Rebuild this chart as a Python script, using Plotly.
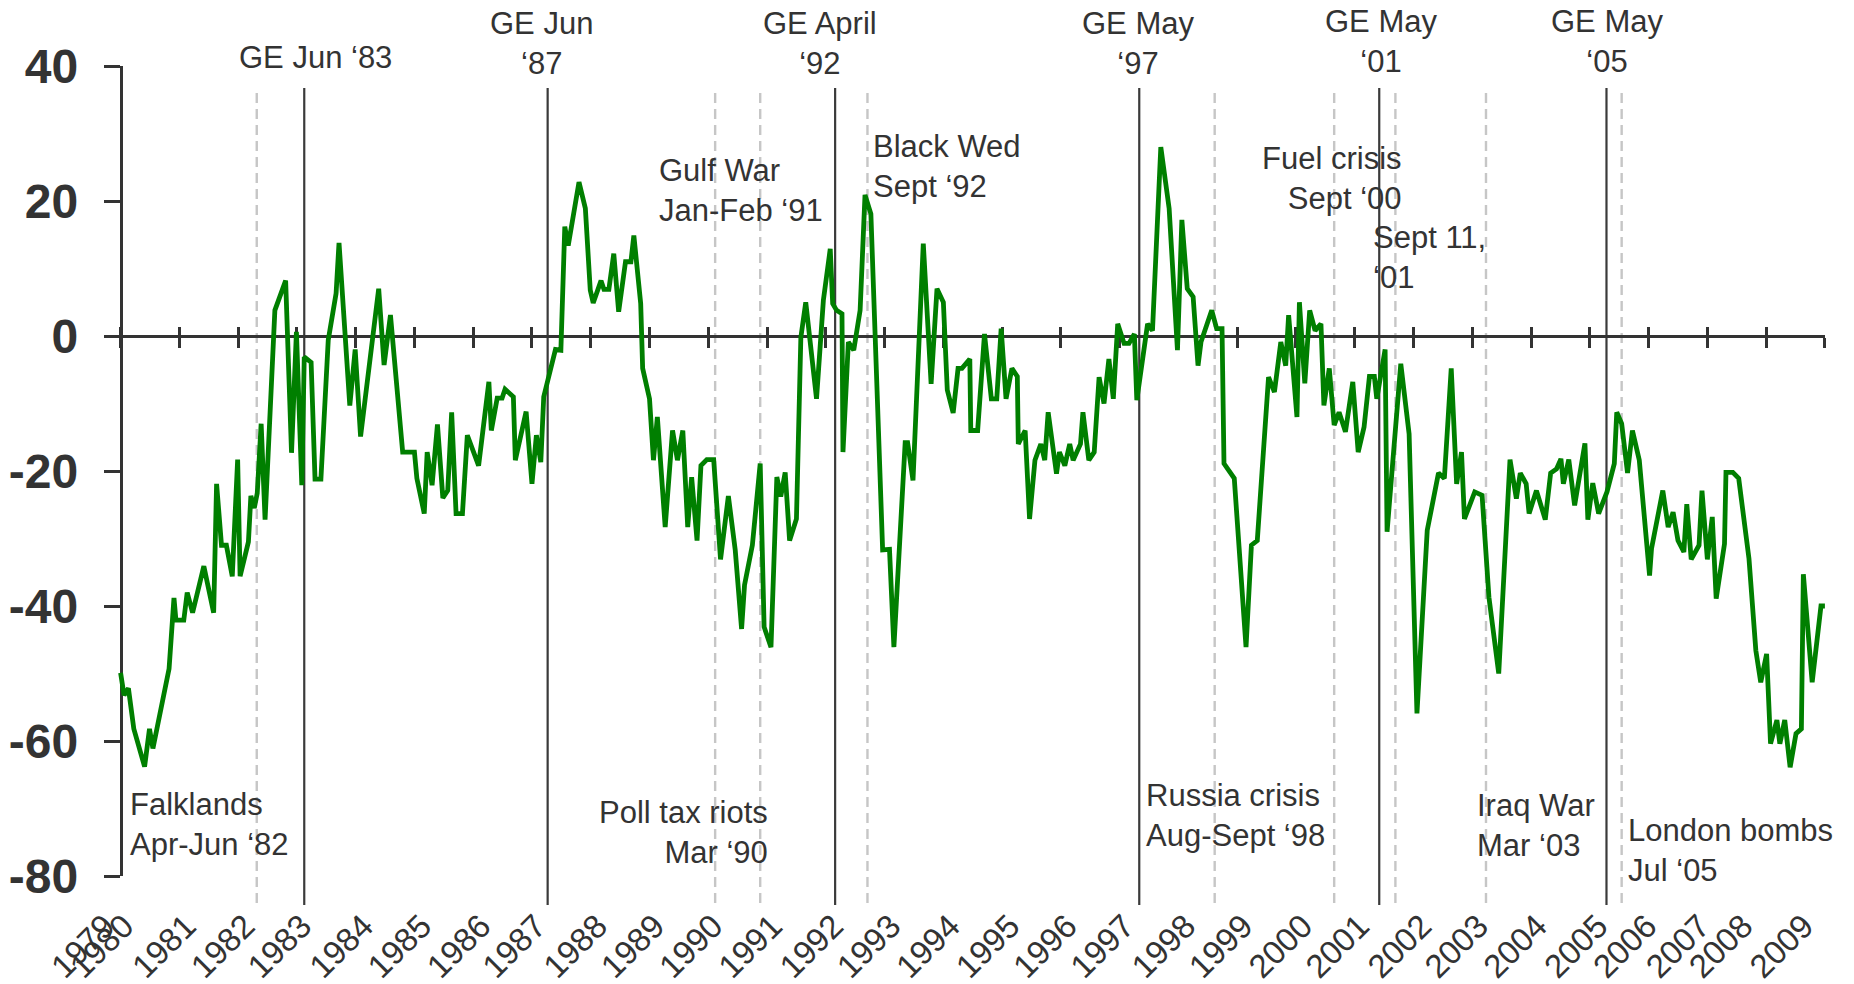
import plotly.graph_objects as go

# ---------------- data ----------------
# position along the category axis (one tick mark every 12 periods)
period = [
    0.0, 0.7, 1.6, 2.7, 4.9, 5.9, 6.6, 9.9, 10.9, 11.3, 12.9, 13.6, 14.7, 17.0, 19.0,
    19.6, 20.6, 21.6, 22.8, 23.9, 24.4, 26.1, 26.6, 27.3, 27.9, 28.7, 29.5, 31.5, 33.7,
    34.9, 35.9, 37.0, 37.5, 38.9, 39.7, 40.9, 42.4, 44.0, 44.6, 46.8, 47.9, 49.0, 52.7,
    53.8, 55.1, 57.6, 60.0, 60.5, 62.0, 62.6, 63.6, 64.7, 65.8, 66.8, 67.6, 68.5, 69.8,
    70.8, 73.1, 75.2, 75.7, 76.9, 77.9, 78.5, 80.2, 80.6, 82.8, 84.0, 84.9, 85.8, 86.4,
    87.8, 88.8, 89.9, 90.7, 91.4, 93.6, 94.9, 95.9, 96.5, 98.1, 98.7, 99.7, 100.7, 101.7,
    103.1, 104.2, 104.8, 106.2, 106.6, 108.0, 108.8, 109.6, 111.2, 112.7, 113.7, 114.8,
    115.8, 116.6, 117.7, 118.5, 119.7, 121.1, 122.5, 124.1, 125.5, 126.8, 127.4, 129.0,
    130.6, 131.4, 132.8, 134.0, 134.8, 135.7, 136.6, 138.0, 138.9, 139.9, 142.1, 143.5,
    144.9, 145.4, 146.2, 147.3, 147.5, 148.6, 149.7, 151.0, 152.0, 153.2, 155.6, 157.0,
    157.9, 160.2, 160.7, 161.8, 163.9, 165.5, 166.7, 168.0, 168.8, 170.0, 171.0, 171.8,
    173.4, 173.6, 175.0, 176.4, 177.8, 178.9, 179.8, 180.8, 182.0, 183.1, 183.3, 184.7,
    185.6, 186.7, 187.9, 188.7, 189.4, 191.1, 191.7, 192.8, 193.8, 194.5, 196.0, 196.5,
    197.7, 198.8, 199.8, 200.8, 201.8, 202.7, 203.6, 204.9, 205.9, 207.0, 207.5, 208.7,
    209.7, 210.7, 212.4, 214.1, 215.8, 216.7, 217.8, 219.0, 220.0, 220.6, 221.8, 222.8,
    223.8, 224.9, 225.3, 227.4, 229.8, 230.9, 232.1, 234.4, 235.6, 236.9, 237.9, 238.5,
    240.2, 240.7, 241.8, 242.8, 243.9, 245.1, 245.7, 246.8, 247.8, 248.8, 250.1, 251.6,
    252.7, 253.9, 255.0, 256.0, 256.5, 258.2, 258.6, 261.4, 263.1, 264.7, 266.8, 269.1,
    270.3, 271.7, 272.8, 273.8, 274.4, 276.5, 278.0, 279.4, 281.4, 283.7, 285.0, 285.8,
    287.0, 287.6, 289.1, 290.9, 292.0, 293.2, 294.1, 294.6, 295.7, 296.9, 299.0, 299.6,
    300.6, 301.8, 303.5, 305.0, 305.5, 306.5, 307.7, 308.7, 310.1, 312.2, 312.6, 314.9,
    316.0, 317.0, 318.0, 319.2, 319.8, 320.7, 322.3, 322.9, 324.0, 325.0, 325.8, 327.5,
    327.8, 329.2, 330.4, 332.5, 333.9, 334.9, 336.1, 336.9, 338.2, 338.8, 339.8, 340.9,
    342.1, 343.2, 343.6, 345.4, 347.2, 348.0,
]
balance = [
    -49.9, -53.2, -52.2, -58.2, -63.8, -58.2, -61.1, -49.3, -38.8, -42.1, -42.1, -38.0, -41.0, -34.1, -41.0,
    -21.9, -31.0, -31.0, -35.6, -18.3, -35.6, -30.5, -23.7, -25.5, -23.3, -13.0, -27.2, 3.8, 8.2,
    -17.3, 0.6, -22.1, -3.1, -3.9, -21.2, -21.2, -0.6, 6.3, 13.8, -10.3, -2.0, -14.9, 7.0,
    -4.3, 3.1, -17.2, -17.2, -21.1, -26.3, -17.2, -22.1, -13.1, -24.0, -22.9, -11.3, -26.3, -26.3,
    -14.7, -19.2, -6.8, -14.0, -9.2, -9.2, -7.9, -9.0, -18.4, -11.2, -21.9, -14.7, -18.7, -9.0,
    -4.5, -2.0, -2.1, 16.2, 13.4, 22.8, 18.9, 6.8, 4.9, 8.2, 6.9, 6.9, 12.2, 3.6,
    11.0, 11.0, 14.9, 4.8, -4.8, -9.3, -18.4, -12.0, -28.3, -14.0, -18.4, -14.0,
    -28.3, -20.9, -30.3, -19.2, -18.3, -18.3, -33.1, -23.7, -31.7, -43.4, -36.9, -31.0,
    -18.9, -43.1, -46.1, -20.9, -23.8, -20.2, -30.3, -27.1, -0.2, 5.0, -9.3, 5.3,
    12.9, 4.8, 3.8, 3.3, -17.2, -0.9, -2.1, 3.8, 20.9, 18.1, -31.7, -31.6,
    -46.1, -15.8, -15.8, -21.4, 13.7, -7.1, 7.0, 5.0, -8.0, -11.4, -4.8, -4.8,
    -3.4, -14.0, -14.0, 0.3, -9.3, -9.3, 1.1, -9.3, -4.8, -6.0, -16.0, -14.0,
    -27.1, -18.4, -16.0, -18.4, -11.3, -20.4, -17.2, -19.2, -16.0, -18.4, -16.0, -11.3,
    -18.4, -17.2, -6.1, -10.0, -3.4, -9.3, 1.8, -1.1, -1.1, 0.3, -9.5, -3.1,
    1.8, 0.8, 28.0, 18.9, -2.1, 17.2, 7.0, 5.8, -4.4, -0.9, 1.6, 3.8,
    1.1, 1.1, -18.9, -21.1, -46.1, -31.0, -30.3, -6.1, -8.3, -0.9, -4.4, 3.1,
    -12.0, 5.0, -7.0, 3.8, 0.8, 1.8, -10.3, -4.8, -13.2, -11.3, -14.2, -6.8,
    -17.2, -13.5, -6.0, -6.0, -9.3, -2.0, -29.0, -4.1, -14.5, -55.9, -28.8, -20.3,
    -21.1, -4.8, -21.9, -17.2, -27.1, -23.1, -23.6, -38.7, -50.0, -18.3, -24.1, -20.3,
    -21.9, -26.3, -22.9, -27.2, -20.3, -19.7, -18.2, -21.9, -18.3, -25.1, -15.9, -27.2,
    -21.8, -26.3, -23.1, -18.9, -11.3, -13.0, -20.3, -14.0, -18.4, -35.5, -31.5, -22.9,
    -28.3, -26.1, -30.3, -32.0, -24.9, -33.1, -31.0, -22.9, -33.1, -26.8, -38.9, -30.8,
    -20.2, -20.2, -21.1, -33.0, -46.6, -51.3, -47.1, -60.4, -56.9, -60.4, -56.9, -63.9,
    -58.9, -58.2, -35.3, -51.3, -40.0, -40.0,
]

year_labels = ["1979", "1980", "1981", "1982", "1983", "1984", "1985", "1986", "1987",
               "1988", "1989", "1990", "1991", "1992", "1993", "1994", "1995", "1996",
               "1997", "1998", "1999", "2000", "2001", "2002", "2003", "2004", "2005",
               "2006", "2007", "2008", "2009"]
year_pos = [-3.15, 0.7, 13.4, 25.4, 37.0, 49.6, 61.5, 73.6, 84.9, 97.4, 109.1, 121.0,
            133.1, 145.6, 157.3, 169.4, 181.6, 193.3, 205.0, 217.5, 229.2, 241.4, 253.0,
            265.7, 277.3, 289.3, 301.7, 311.7, 322.5, 331.3, 343.7]
period_ticks = [0, 12, 24, 36, 48, 60, 72, 84, 96, 108, 120, 132, 144, 156, 168, 180,
                192, 204, 216, 228, 240, 252, 264, 276, 288, 300, 312, 324, 336, 348]
y_ticks = [-80, -60, -40, -20, 0, 20, 40]
y_labels = ["-80", "-60", "-40", "-20", "0", "20", "40"]

# general elections (solid lines) and other events (dashed lines)
election_period = [37.5, 87.2, 145.9, 208.0, 257.0, 303.4]
event_period = [27.8, 121.4, 130.6, 152.5, 223.4, 247.8, 260.3, 278.8, 306.5]

# ---------------- layout constants ----------------
W, H = 1854, 984
ML, MR, MT, MB = 105, 29, 66, 108
PW, PH = W - ML - MR, H - MT - MB
X_RANGE = [-3.185, 348.02]
Y_RANGE = [-80, 40]
INK = "#333333"
FONT = "Liberation Sans, Arial, Helvetica, sans-serif"


def px_x(px):
    return (px - ML) / PW


def px_y(py):
    return (H - MB - py) / PH


fig = go.Figure()
# dummy traces so that the overlay axes (zero line with crossing ticks) are drawn
fig.add_trace(go.Scatter(x=[None], y=[None], xaxis="x2", yaxis="y",
                         showlegend=False, hoverinfo="skip"))
fig.add_trace(go.Scatter(x=[None], y=[None], xaxis="x3", yaxis="y",
                         showlegend=False, hoverinfo="skip"))
fig.add_trace(go.Scatter(x=period, y=balance, mode="lines",
                         line=dict(color="#007f00", width=4.8),
                         showlegend=False, hoverinfo="x+y"))

shapes = []
for p in event_period:
    shapes.append(dict(type="line", xref="x", yref="paper", x0=p, x1=p,
                       y0=px_y(903), y1=px_y(88), layer="below",
                       line=dict(color="#c6c6c6", width=2.4, dash="10px,6px")))
for p in election_period:
    shapes.append(dict(type="line", xref="x", yref="paper", x0=p, x1=p,
                       y0=px_y(905), y1=px_y(88), layer="below",
                       line=dict(color="#3a3a3a", width=2.2)))

notes = [
    ("GE Jun ‘83", 315, 57.5, "center"),
    ("GE Jun<br>‘87", 541, 44, "center"),
    ("GE April<br>‘92", 820, 44, "center"),
    ("GE May<br>‘97", 1138, 43, "center"),
    ("GE May<br>‘01", 1381, 41, "center"),
    ("GE May<br>‘05", 1607, 41, "center"),
    ("Gulf War<br>Jan-Feb ‘91", 657, 190, "left"),
    ("Black Wed<br>Sept ‘92", 871, 166, "left"),
    ("Fuel crisis<br>Sept ‘00", 1404, 178, "right"),
    ("Sept 11,<br>‘01", 1371, 257, "left"),
    ("Falklands<br>Apr-Jun ‘82", 128, 824, "left"),
    ("Poll tax riots<br>Mar ‘90", 770, 832, "right"),
    ("Russia crisis<br>Aug-Sept ‘98", 1144, 815, "left"),
    ("Iraq War<br>Mar ‘03", 1475, 825, "left"),
    ("London bombs<br>Jul ‘05", 1626, 850, "left"),
]
annotations = []
for text, ax_, ay_, anchor in notes:
    annotations.append(dict(text=text, xref="paper", yref="paper",
                            x=px_x(ax_), y=px_y(ay_), xanchor=anchor, yanchor="middle",
                            align=anchor, showarrow=False,
                            font=dict(family=FONT, size=31, color=INK)))

y_pos = (0 - X_RANGE[0]) / (X_RANGE[1] - X_RANGE[0])
zero_pos = (0 - Y_RANGE[0]) / (Y_RANGE[1] - Y_RANGE[0])

fig.update_layout(
    template="none",
    width=W, height=H,
    margin=dict(l=ML, r=MR, t=MT, b=MB, pad=0),
    paper_bgcolor="white", plot_bgcolor="white",
    showlegend=False,
    shapes=shapes,
    annotations=annotations,
    xaxis=dict(range=X_RANGE, domain=[0, 1], anchor="y", showline=False, ticks="",
               tickmode="array", tickvals=year_pos, ticktext=year_labels, tickangle=-45,
               tickfont=dict(family=FONT, size=33, color=INK), ticklabelstandoff=23,
               showgrid=False, zeroline=False, automargin=False, layer="below traces"),
    xaxis2=dict(range=X_RANGE, overlaying="x", anchor="free", position=zero_pos,
                showline=True, linecolor=INK, linewidth=2.6,
                ticks="outside", ticklen=10, tickwidth=2.6, tickcolor=INK,
                tickmode="array", tickvals=period_ticks, showticklabels=False,
                showgrid=False, zeroline=False, automargin=False, layer="below traces"),
    xaxis3=dict(range=X_RANGE, overlaying="x", anchor="free", position=zero_pos,
                showline=False, ticks="inside", ticklen=9, tickwidth=2.6, tickcolor=INK,
                tickmode="array", tickvals=period_ticks, showticklabels=False,
                showgrid=False, zeroline=False, automargin=False, layer="below traces"),
    yaxis=dict(range=Y_RANGE, domain=[0, 1], anchor="free", position=y_pos,
               showline=True, linecolor=INK, linewidth=2.8,
               ticks="outside", ticklen=16, tickwidth=2.8, tickcolor=INK,
               tickmode="array", tickvals=y_ticks, ticktext=y_labels,
               tickfont=dict(family=FONT, size=48, color=INK, weight="bold"),
               ticklabelstandoff=16,
               showgrid=False, zeroline=False, automargin=False, layer="below traces"),
)

fig.write_html("out.html", config={"displayModeBar": False},
               post_script="document.body.style.margin='0';")
